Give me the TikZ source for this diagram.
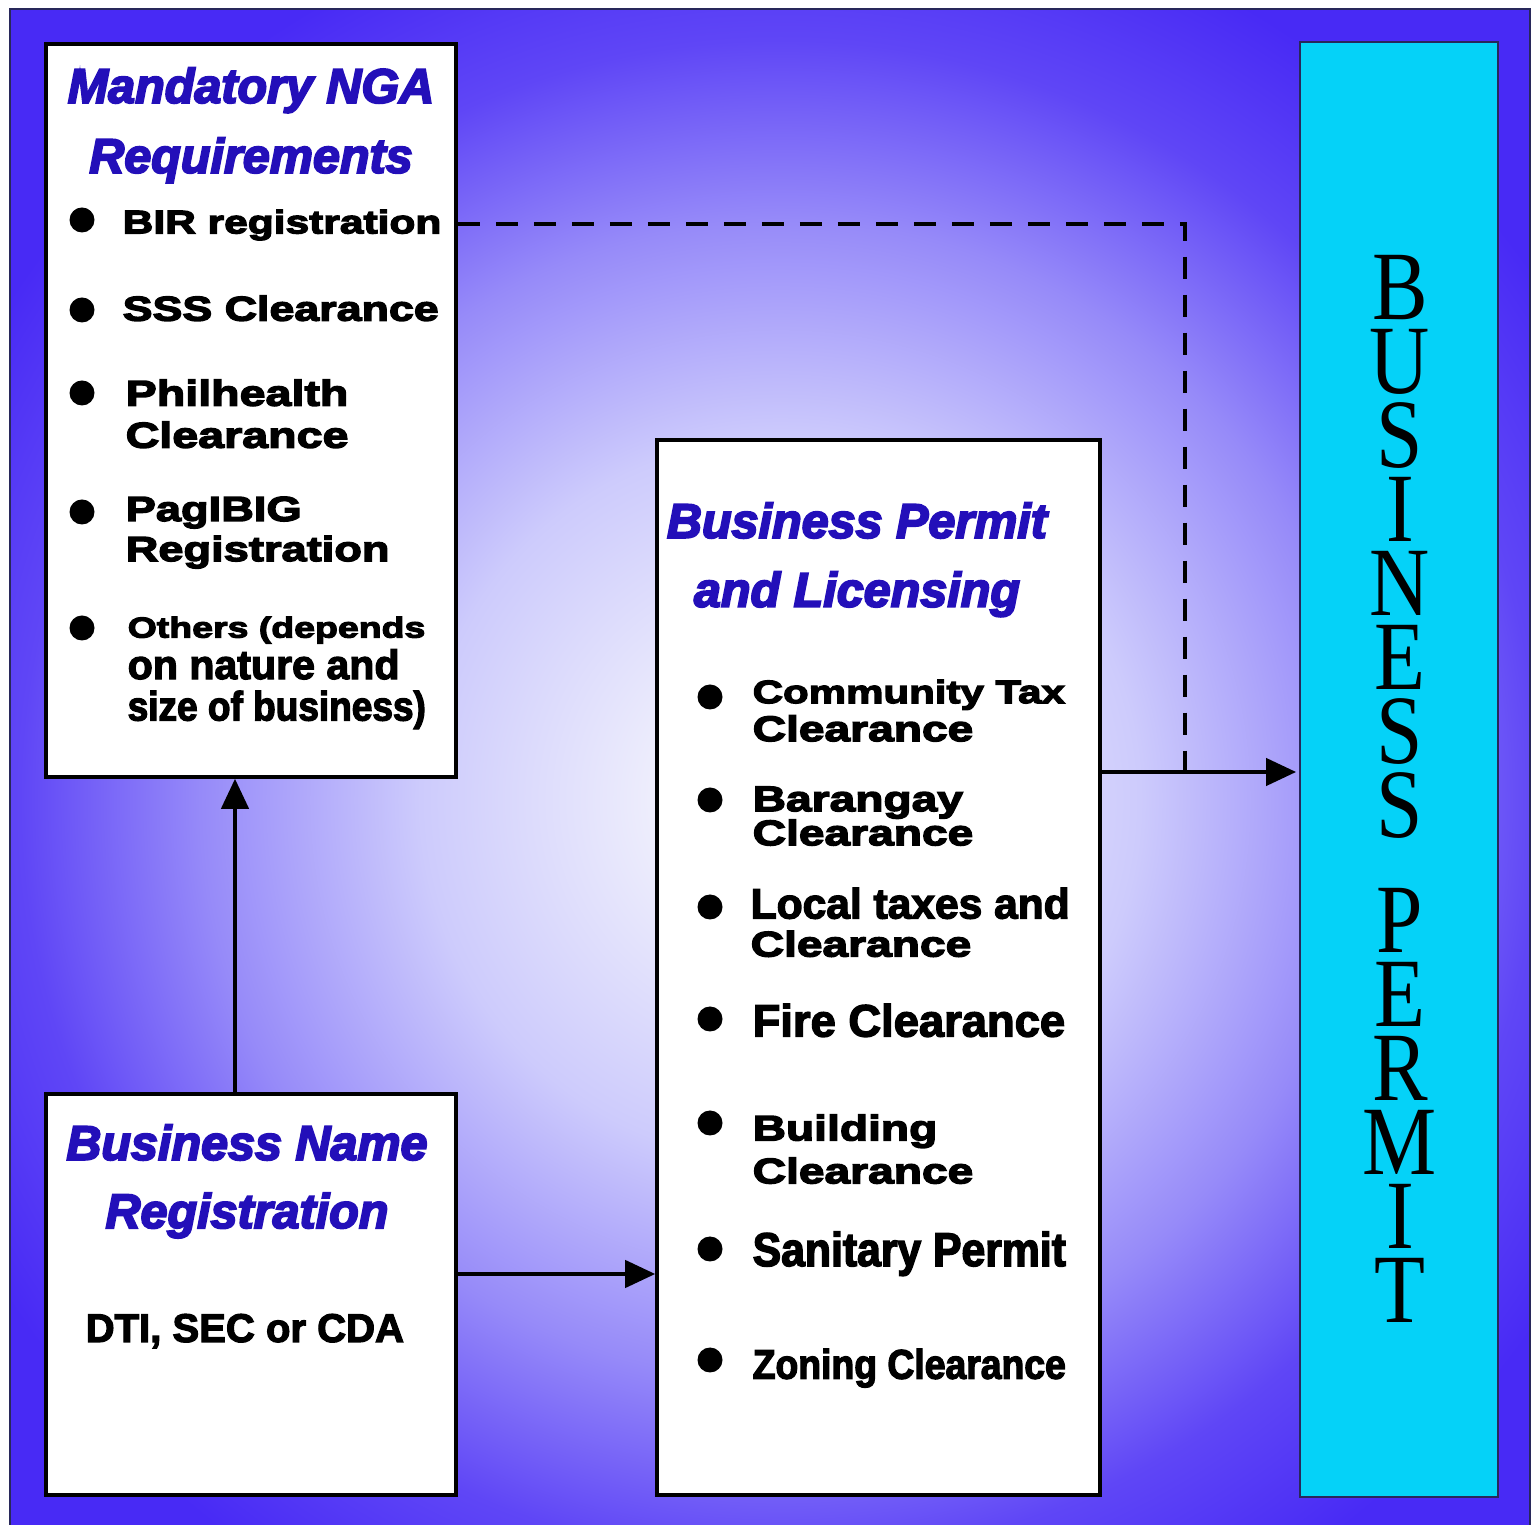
\documentclass[tikz,border=0pt]{standalone}
\usepackage{fontspec}
\usepackage{tikz}
\usetikzlibrary{arrows.meta}
\usetikzlibrary{positioning}
\usetikzlibrary{calc}
\newfontfamily\fblack{Liberation Sans Bold}[FakeStretch=1.3,FakeBold=4]
\newfontfamily\fbold{Liberation Sans Bold}[FakeBold=3]
\newfontfamily\fnarrow{Liberation Sans Bold}[FakeStretch=0.9,FakeBold=3]
\newfontfamily\ftitle{Liberation Sans Bold Italic}[FakeBold=4]
\newfontfamily\fserif{Liberation Serif}[FakeStretch=0.85]
\definecolor{bgblue}{RGB}{72,42,245}
\definecolor{bgdeep}{RGB}{95,70,246}
\definecolor{bgmid}{RGB}{150,138,249}
\definecolor{bgpale}{RGB}{205,203,252}
\definecolor{bglight}{RGB}{242,242,252}
\definecolor{ttlblue}{RGB}{35,15,185}
\definecolor{barcyan}{RGB}{5,210,248}
\definecolor{framecol}{RGB}{40,40,90}
\pgfdeclareradialshading{bgshade}{\pgfpoint{0bp}{0bp}}{color(0bp)=(bglight); color(2.4bp)=(bglight); color(9bp)=(bgpale); color(14.5bp)=(bgmid); color(19bp)=(bgdeep); color(23bp)=(bgblue); color(50bp)=(bgblue)}

\begin{document}
\begin{tikzpicture}[box/.style={draw=black, fill=white, line width=1pt, inner sep=0pt},
  blt/.style={circle, fill=black, inner sep=0pt, minimum size=2.5mm},
  itm/.style={anchor=north west, inner sep=0pt, align=left},
  ttl/.style={anchor=north, inner sep=0pt, align=center, text=ttlblue},
  arr/.style={line width=1.2pt, -{Triangle[length=3mm,width=2.7mm]}},
  dashline/.style={line width=1.2pt, dash pattern=on 2.2mm off 1.6mm}]
\useasboundingbox (0,0) rectangle (15.32,-15.25);
\begin{scope}
\clip (0.10,-0.09) rectangle (15.30,-15.25);
\shade[shading=bgshade] (-2.2,-18.0) rectangle (17.8,2.0);
\end{scope}
\draw[framecol, line width=0.6pt] (0.10,-15.25) -- (0.10,-0.09) -- (15.30,-0.09) -- (15.30,-15.25);

\node[box, minimum width=4.10cm, minimum height=7.33cm] (nga) at (2.51,-4.105) {};
\node[box, minimum width=4.10cm, minimum height=4.01cm] (bnr) at (2.51,-12.945) {};
\node[box, minimum width=4.43cm, minimum height=10.55cm] (bpl) at (8.785,-9.675) {};
\node[draw=framecol, fill=barcyan, line width=0.5pt, inner sep=0pt, minimum width=1.98cm, minimum height=14.55cm] (bar) at (13.99,-7.695) {};

\node[ttl, font=\ftitle\fontsize{13.8}{19.9}\selectfont] (ngat) at (2.51,-0.67) {Mandatory NGA\\Requirements};
\node[blt] (n1) at (0.82,-2.20) {};
\node[itm, font=\fblack\fontsize{9.3}{11}\selectfont] (nt1) at (1.22,-2.09) {BIR registration};
\node[blt] (n2) at (0.82,-3.10) {};
\node[itm, font=\fblack\fontsize{9.8}{11}\selectfont] (nt2) at (1.22,-2.95) {SSS Clearance};
\node[blt] (n3) at (0.82,-3.93) {};
\node[itm, font=\fblack\fontsize{10.2}{11.95}\selectfont] (nt3) at (1.25,-3.79) {Philhealth\\Clearance};
\node[blt] (n4) at (0.82,-5.12) {};
\node[itm, font=\fblack\fontsize{9.9}{11.4}\selectfont] (nt4) at (1.25,-4.96) {PagIBIG\\Registration};
\node[blt] (n5) at (0.82,-6.28) {};
\node[itm, font=\fblack\fontsize{8.2}{11.8}\selectfont] (nt5) at (1.27,-6.16) {Others (depends\\{\fbold\fontsize{11.7}{11.8}\selectfont on nature and}\\{\fnarrow\fontsize{11.7}{11.8}\selectfont size of business)}};

\node[ttl, font=\ftitle\fontsize{13.8}{19.4}\selectfont] (bnrt) at (2.47,-11.24) {Business Name\\Registration};
\node[anchor=base west, inner sep=0pt, font=\fbold\fontsize{11.4}{12}\selectfont] (reg) at (0.85,-13.42) {DTI, SEC or CDA};

\node[ttl, font=\ftitle\fontsize{13.8}{19.6}\selectfont] (bplt) at (8.57,-5.02) {Business Permit\\and Licensing};
\node[blt] (p1) at (7.10,-6.97) {};
\node[itm, font=\fblack\fontsize{10.1}{10.8}\selectfont] (pt1) at (7.52,-6.79) {{\fontsize{9.2}{10.8}\selectfont Community Tax}\\Clearance};
\node[blt] (p2) at (7.10,-8.00) {};
\node[itm, font={\fblack\fontsize{10.1}{9.7}\selectfont\setlength{\lineskiplimit}{-5pt}}] (pt2) at (7.52,-7.86) {Barangay\\Clearance};
\node[blt] (p3) at (7.10,-9.07) {};
\node[itm, font=\fblack\fontsize{10.1}{10.8}\selectfont] (pt3) at (7.50,-8.87) {{\fbold\fontsize{12.1}{10.8}\selectfont Local taxes and}\\Clearance};
\node[blt] (p4) at (7.10,-10.19) {};
\node[itm, font=\fbold\fontsize{12.9}{14}\selectfont] (pt4) at (7.52,-10.03) {Fire Clearance};
\node[blt] (p5) at (7.10,-11.23) {};
\node[itm, font=\fblack\fontsize{10.1}{12.2}\selectfont] (pt5) at (7.52,-11.14) {Building\\Clearance};
\node[blt] (p6) at (7.10,-12.49) {};
\node[itm, font=\fnarrow\fontsize{13.5}{14}\selectfont] (pt6) at (7.52,-12.31) {Sanitary Permit};
\node[blt] (p7) at (7.10,-13.60) {};
\node[itm, font=\fnarrow\fontsize{11.8}{14}\selectfont] (pt7) at (7.52,-13.48) {Zoning Clearance};

\node[anchor=north, inner sep=0pt, align=center, font=\fserif\fontsize{27.9}{21.05}\selectfont] (bpm) at (14.00,-2.55) {B\\U\\S\\I\\N\\E\\S\\S\\[11.7pt]P\\E\\R\\M\\I\\T};

\coordinate (jn) at (11.85,-7.72);
\coordinate (dt) at (11.85,-2.24);
\draw[arr] ([xshift=-1.6mm]bnr.north) -- ([xshift=-1.6mm]nga.south);
\draw[arr] ([yshift=2.05mm]bnr.east) -- ([yshift=2.05mm]bnr.east -| bpl.west);
\draw[arr] (jn -| bpl.east) -- ([xshift=-0.3mm]jn -| bar.west);
\draw[dashline] (dt -| nga.east) -- (dt) -- (jn);
\end{tikzpicture}
\end{document}
